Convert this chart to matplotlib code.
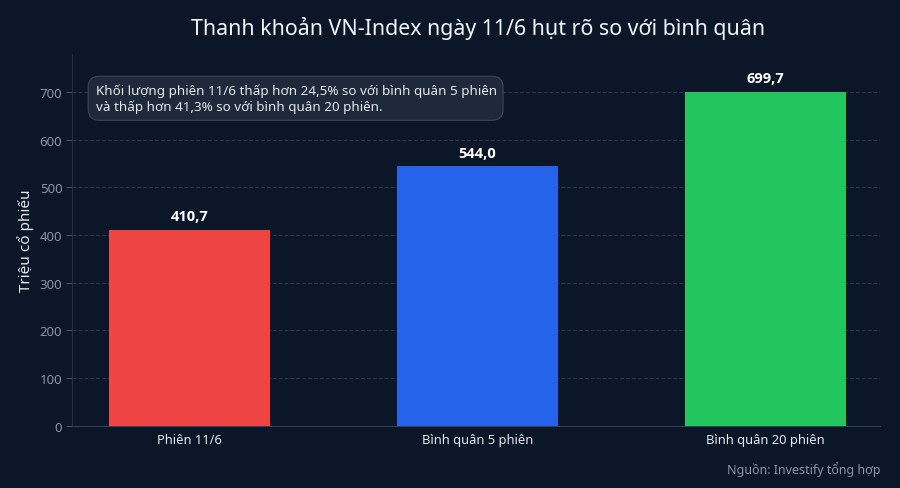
import matplotlib.pyplot as plt
from matplotlib.patches import FancyBboxPatch
from matplotlib import font_manager

categories = ['Phiên 11/6', 'Bình quân 5 phiên', 'Bình quân 20 phiên']
values = [410.7, 544.0, 699.7]
value_labels = ['410,7', '544,0', '699,7']
colors = ['#EF4444', '#2563EB', '#22C55E']
yticks = [0, 100, 200, 300, 400, 500, 600, 700]

title = 'Thanh khoản VN-Index ngày 11/6 hụt rõ so với bình quân'
note = ('Khối lượng phiên 11/6 thấp hơn 24,5% so với bình quân 5 phiên\n'
        'và thấp hơn 41,3% so với bình quân 20 phiên.')
source = 'Nguồn: Investify tổng hợp'

names = sorted({(f.name, f.weight) for f in font_manager.fontManager.ttflist if 'Noto' in f.name or 'Open' in f.name})
print(names)

bg = '#0B1628'
plt.rcParams['font.family'] = ['Noto Sans', 'DejaVu Sans']

fig = plt.figure(figsize=(9, 4.89), dpi=100, facecolor=bg)
ax = fig.add_axes([0.08, 0.127, 0.898, 0.761])
ax.set_facecolor(bg)

x = range(len(categories))
ax.bar(x, values, width=0.56, color=colors, zorder=3)
for i, v in enumerate(values):
    ax.text(i, v + 14, value_labels[i], ha='center', va='bottom', family=['Open Sans', 'DejaVu Sans'],
            color='white', fontsize=10.5, fontweight='bold', zorder=4)

ax.set_xlim(-0.41, 2.40)
ax.set_ylim(0, 780)
ax.set_xticks(list(x))
ax.set_xticklabels(categories, color='#E5E7EB', fontsize=9.3)
ax.set_yticks(yticks)
ax.set_yticklabels([str(t) for t in yticks], color='#8A94A6', fontsize=9.5)
ax.tick_params(axis='x', length=0, pad=5)
ax.tick_params(axis='y', length=4, color='#4B5563', pad=3)
ax.grid(axis='y', color='#2A3547', linestyle='--', linewidth=0.8, zorder=0)
for s in ['top', 'right']:
    ax.spines[s].set_visible(False)
ax.spines['left'].set_color('#243042')
ax.spines['bottom'].set_color('#334155')
ax.set_ylabel('Triệu cổ phiếu', color='#E5E7EB', fontsize=11, labelpad=4)

fig.text(0.531, 0.942, title, ha='center', va='center', color='#F1F5F9', fontsize=15.4,
         fontweight='light')

box = FancyBboxPatch((0.098, 0.752), 0.461, 0.09, boxstyle='round,pad=0,rounding_size=0.012',
                     transform=fig.transFigure, facecolor='#1E293B', edgecolor='#3B4658',
                     linewidth=0.8, mutation_aspect=900 / 489, zorder=5)
fig.patches.append(box)
fig.text(0.107, 0.797, note, ha='left', va='center', color='#E5E7EB', fontsize=9.7,
         linespacing=1.25, zorder=6)

fig.text(0.978, 0.04, source, ha='right', va='center', color='#8A94A6', fontsize=9)

fig.savefig('out.png', dpi=100, facecolor=bg)
